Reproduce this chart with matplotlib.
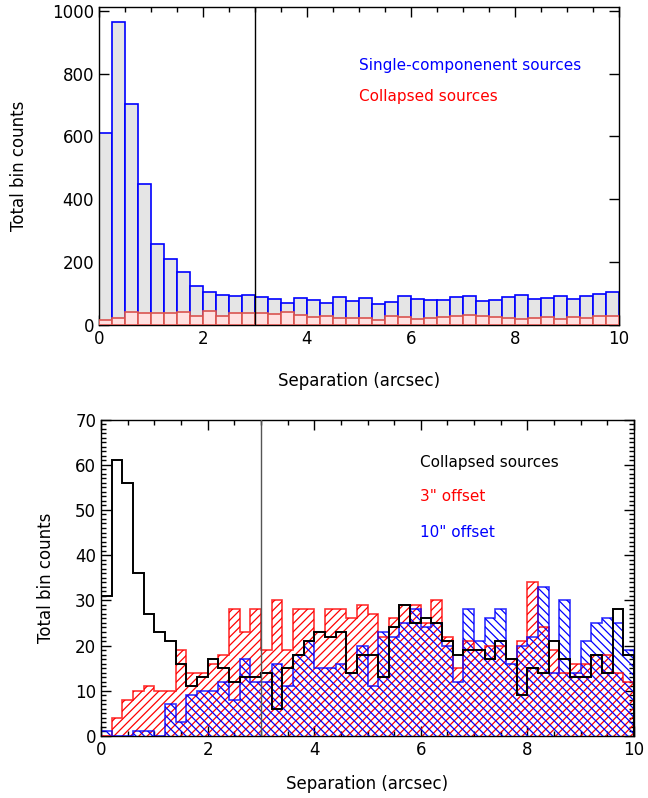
import numpy as np
import matplotlib.pyplot as plt
from matplotlib.ticker import MultipleLocator

#%% Data
# top panel: 0.25 arcsec bins, 0-10
top_edges = np.linspace(0, 10, 41)
single_counts = [612, 964, 702, 450, 259, 211, 170, 125, 104, 97,
                 92, 94, 88, 82, 71, 85, 80, 71, 88, 77,
                 85, 68, 74, 91, 84, 79, 80, 90, 91, 77,
                 80, 88, 96, 82, 87, 93, 83, 91, 100, 104]
collapsed_counts = [16, 21, 42, 39, 39, 37, 41, 29, 45, 30,
                    38, 38, 37, 35, 41, 31, 24, 30, 21, 23,
                    21, 15, 30, 24, 20, 23, 27, 29, 31, 29,
                    25, 21, 18, 21, 24, 20, 27, 21, 28, 28]

# bottom panel: 0.2 arcsec bins, 0-10
bot_edges = np.linspace(0, 10, 51)
collapsed_b = [31, 61, 56, 36, 27, 23, 21, 16, 11, 13,
               17, 15, 12, 13, 13, 14, 6, 15, 18, 21,
               23, 22, 23, 14, 18, 18, 13, 24, 29, 25,
               26, 25, 21, 18, 19, 19, 17, 21, 17, 9,
               15, 14, 21, 17, 13, 13, 18, 14, 28, 18]
offset3 = [0, 4, 8, 10, 11, 10, 10, 19, 14, 14,
           16, 18, 28, 23, 28, 19, 30, 19, 28, 28,
           23, 28, 28, 26, 29, 27, 22, 26, 29, 29,
           25, 30, 22, 15, 21, 19, 20, 20, 17, 21,
           34, 24, 19, 14, 16, 16, 18, 18, 14, 12]
offset10 = [1, 0, 0, 1, 1, 0, 7, 3, 9, 10,
            10, 12, 8, 17, 12, 12, 16, 11, 18, 21,
            15, 15, 16, 14, 20, 11, 23, 22, 25, 28,
            24, 25, 20, 12, 28, 21, 26, 28, 16, 20,
            22, 33, 14, 30, 14, 21, 25, 26, 25, 19]

#%% Settings
fsize = 12
plt.rcParams['hatch.linewidth'] = 0.9
plt.rcParams['font.family'] = 'DejaVu Sans'

fig = plt.figure(figsize=(6.48, 7.98), dpi=100)
ax1 = fig.add_axes([0.1528, 0.5927, 0.8024, 0.3985])
ax2 = fig.add_axes([0.1559, 0.0777, 0.8225, 0.3966])

def style_axes(ax):
    ax.tick_params(which='both', direction='in', top=True, right=True,
                   labelsize=fsize, width=1)
    ax.tick_params(which='major', length=7)
    ax.tick_params(which='minor', length=3.5)
    for s in ax.spines.values():
        s.set_linewidth(1)

#%% Top panel
w = top_edges[1] - top_edges[0]
ax1.bar(top_edges[:-1], single_counts, width=w, align='edge',
        color='#e5e5e5', edgecolor='blue', linewidth=1.2, zorder=2)
ax1.bar(top_edges[:-1], collapsed_counts, width=w, align='edge',
        color='#ffe1e1', edgecolor='#d9534f', linewidth=1.2, zorder=3)
ax1.axvline(3, color='black', linewidth=1, zorder=4)
ax1.text(5.0, 812, 'Single-componenent sources', color='blue', fontsize=11)
ax1.text(5.0, 713, 'Collapsed sources', color='red', fontsize=11)
ax1.set_xlim(0, 10)
ax1.set_ylim(0, 1012)
ax1.xaxis.set_major_locator(MultipleLocator(2))
ax1.xaxis.set_minor_locator(MultipleLocator(0.5))
ax1.yaxis.set_major_locator(MultipleLocator(200))
style_axes(ax1)
ax1.set_xlabel('Separation (arcsec)', fontsize=fsize)
ax1.set_ylabel('Total bin counts', fontsize=fsize)
ax1.yaxis.set_label_coords(-0.137, 0.5)
ax1.xaxis.set_label_coords(0.5, -0.148)

#%% Bottom panel
ax2.stairs(offset3, bot_edges, fill=True, facecolor='none', edgecolor='red',
           hatch='////', linewidth=0, zorder=2)
ax2.stairs(offset10, bot_edges, fill=True, facecolor='none', edgecolor='blue',
           hatch='\\\\\\\\', linewidth=0, zorder=3)
ax2.stairs(offset3, bot_edges, color='red', linewidth=1.2, alpha=0.8, zorder=4)
ax2.stairs(offset10, bot_edges, color='blue', linewidth=1.2, alpha=0.8, zorder=4)
ax2.stairs(collapsed_b, bot_edges, color='black', linewidth=1.4, zorder=5)
ax2.axvline(3, color='#555555', linewidth=1, zorder=6)
ax2.text(5.98, 60.6, 'Collapsed sources', color='black', fontsize=11, va='center')
ax2.text(5.98, 52.9, '3" offset', color='red', fontsize=11, va='center')
ax2.text(5.98, 44.9, '10" offset', color='blue', fontsize=11, va='center')
ax2.set_xlim(0, 10)
ax2.set_ylim(0, 70)
ax2.xaxis.set_major_locator(MultipleLocator(2))
ax2.xaxis.set_minor_locator(MultipleLocator(0.5))
ax2.yaxis.set_major_locator(MultipleLocator(10))
ax2.yaxis.set_minor_locator(MultipleLocator(1))
style_axes(ax2)
ax2.set_xlabel('Separation (arcsec)', fontsize=fsize)
ax2.set_ylabel('Total bin counts', fontsize=fsize)
ax2.yaxis.set_label_coords(-0.086, 0.5)
ax2.xaxis.set_label_coords(0.5, -0.122)

fig.savefig('out.png', dpi=100)
